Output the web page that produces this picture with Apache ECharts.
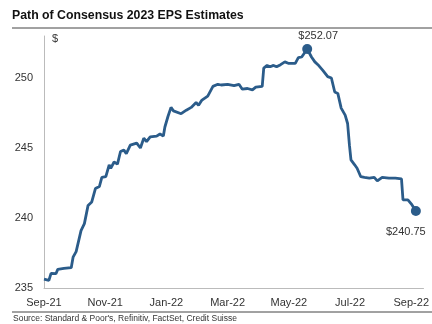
<!DOCTYPE html>
<html lang="en">

<head>
  <meta charset="UTF-8">
  <title>Path of Consensus 2023 EPS Estimates</title>
  <script src="https://cdn.jsdelivr.net/npm/echarts@6/dist/echarts.min.js"></script>
</head>
<style>
  * {
    margin: 0px;
    padding: 0px;
  }

  #chart {
    width: 432px;
    height: 324px;
    background: #fff;
  }
</style>

<body>
  <div id="chart"></div>
</body>
<script>
  // months since 1 Sep 2021
  var months = [0, 0.16, 0.23, 0.39, 0.45, 0.65, 0.89, 0.95, 1.05, 1.21, 1.32, 1.44, 1.56, 1.68, 1.81, 1.89,
    2.02, 2.13, 2.18, 2.29, 2.40, 2.50, 2.61, 2.69, 2.82, 3.03, 3.15, 3.26, 3.35, 3.47, 3.68, 3.79, 3.90,
    3.95, 4.05, 4.15, 4.23, 4.48, 4.65, 4.81, 4.97, 5.05, 5.15, 5.35, 5.52, 5.68, 5.79, 6.00, 6.21, 6.37,
    6.48, 6.65, 6.81, 6.92, 7.13, 7.18, 7.29, 7.39, 7.50, 7.60, 7.73, 7.87, 7.98, 8.21, 8.31, 8.42, 8.60,
    8.74, 8.85, 8.95, 9.11, 9.27, 9.39, 9.50, 9.60, 9.71, 9.84, 9.92, 9.98, 10.03, 10.15, 10.23, 10.35,
    10.47, 10.63, 10.79, 10.89, 11.05, 11.27, 11.48, 11.68, 11.73, 11.89, 12.02, 12.15];
  // consensus 2023 EPS ($)
  var eps = [235.64, 235.55, 236.05, 236.02, 236.33, 236.4, 236.45, 237.2, 237.6, 239.1, 239.6, 240.9, 241.15,
    242.1, 242.25, 242.9, 242.95, 243.8, 243.55, 244.0, 243.85, 244.75, 244.85, 244.6, 245.2, 245.35, 245.0,
    245.7, 245.45, 245.8, 245.85, 246.0, 245.85, 246.5, 247.25, 247.9, 247.65, 247.45, 247.7, 247.9, 248.25,
    248.05, 248.4, 248.7, 249.4, 249.55, 249.5, 249.55, 249.45, 249.55, 249.2, 249.25, 249.15, 249.35, 249.4,
    250.7, 250.9, 250.8, 250.9, 250.8, 250.95, 251.15, 251.05, 251.05, 251.45, 251.5, 252.07, 251.5, 251.15,
    250.95, 250.55, 250.1, 250.0, 249.0, 248.9, 247.85, 247.35, 246.75, 245.2, 244.15, 243.8, 243.55, 242.95,
    242.9, 242.85, 242.9, 242.65, 242.9, 242.85, 242.85, 242.8, 241.3, 241.3, 240.95, 240.5];
  var xLabels = ['Sep-21', 'Nov-21', 'Jan-22', 'Mar-22', 'May-22', 'Jul-22', 'Sep-22'];
  var calloutIdx = [66, 94];
  var calloutText = ['$252.07', '$240.75'];

  var lineColor = '#2b5c8a';
  var chart = echarts.init(document.getElementById('chart'));

  var lineData = months.map(function (m, i) { return [m, eps[i]]; });
  var callouts = calloutIdx.map(function (idx, k) {
    return {
      value: [months[idx], eps[idx]],
      label: k === 0
        ? { position: 'top', offset: [11, 2], formatter: calloutText[k] }
        : { position: 'bottom', offset: [-10, 5], formatter: calloutText[k] }
    };
  });

  chart.setOption({
    animation: false,
    textStyle: { fontFamily: 'Liberation Sans, Arial, sans-serif' },
    graphic: [
      {
        type: 'text', left: 12, top: 10,
        style: { text: 'Path of Consensus 2023 EPS Estimates', font: 'bold 12.3px "Liberation Sans", Arial', fill: '#111' }
      },
      { type: 'line', shape: { x1: 12, y1: 28, x2: 432, y2: 28 }, style: { stroke: '#444', lineWidth: 1 } },
      { type: 'line', shape: { x1: 12, y1: 312, x2: 432, y2: 312 }, style: { stroke: '#444', lineWidth: 1 } },
      {
        type: 'text', left: 13, top: 314,
        style: { text: "Source: Standard & Poor's, Refinitiv, FactSet, Credit Suisse", font: '8.5px "Liberation Sans", Arial', fill: '#333' }
      }
    ],
    grid: { left: 44, right: 4, top: 36, bottom: 36 },
    xAxis: {
      type: 'value',
      min: 0,
      max: 12.4,
      interval: 2,
      axisLine: { lineStyle: { color: '#bbb', width: 1 } },
      axisTick: { show: false },
      splitLine: { show: false },
      axisLabel: {
        color: '#333', fontSize: 11, margin: 9,
        showMaxLabel: false,
        formatter: function (v) { return xLabels[Math.round(v / 2)] || ''; }
      }
    },
    yAxis: {
      type: 'value',
      min: 235,
      max: 253,
      interval: 5,
      name: '$',
      nameLocation: 'end',
      nameGap: -8,
      nameTextStyle: { color: '#333', fontSize: 11, align: 'left', padding: [0, 0, 0, 8] },
      axisLine: { show: true, lineStyle: { color: '#bbb', width: 1 } },
      axisTick: { show: false },
      splitLine: { show: false },
      axisLabel: { color: '#333', fontSize: 11, margin: 11, showMaxLabel: false }
    },
    series: [{
      type: 'line',
      data: lineData,
      showSymbol: false,
      lineStyle: { color: lineColor, width: 2.8 },
      z: 2
    }, {
      type: 'scatter',
      data: callouts,
      symbolSize: 10,
      itemStyle: { color: lineColor, opacity: 1 },
      label: { show: true, color: '#333', fontSize: 11 },
      z: 3
    }]
  });
</script>

</html>
